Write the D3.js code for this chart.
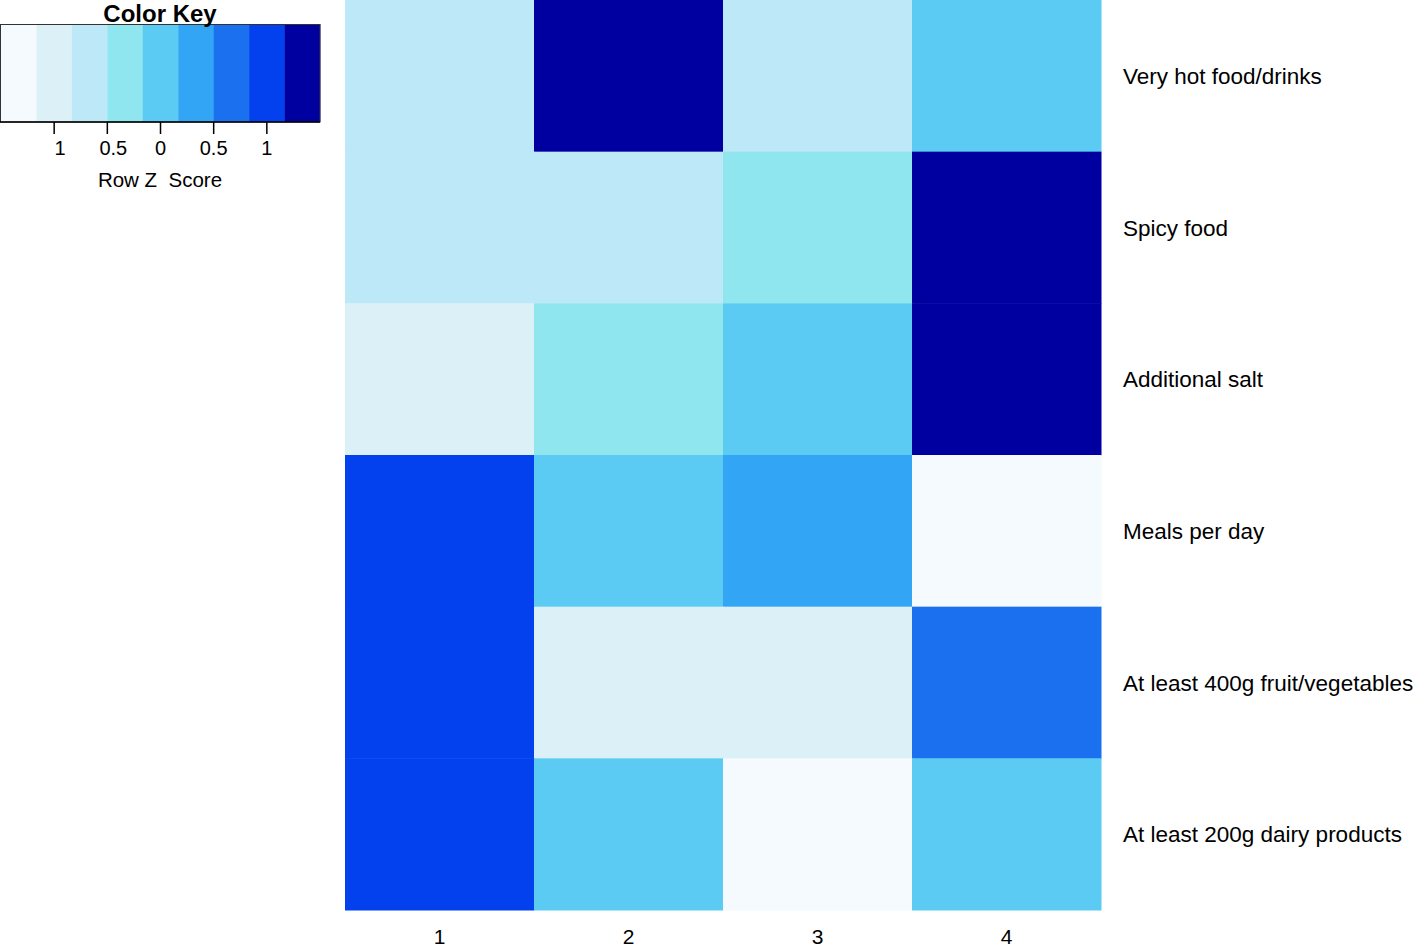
<!DOCTYPE html>
<html><head><meta charset="utf-8">
<script src="https://cdn.jsdelivr.net/npm/d3@7"></script>
<style>body{margin:0;background:#fff;} text{font-family:"Liberation Sans",Arial,Helvetica,sans-serif;}</style>
</head><body><svg id="c" width="1418" height="950"></svg>
<script>
const columns = ["1","2","3","4"];
const rows = ["Very hot food/drinks","Spicy food","Additional salt","Meals per day","At least 400g fruit/vegetables","At least 200g dairy products"];
const zVeryHot  = [-0.62, 1.42, -0.64, -0.16];
const zSpicy    = [-0.55, -0.52, -0.35, 1.42];
const zSalt     = [-0.90, -0.45, 0.00, 1.35];
const zMeals    = [1.00, 0.05, 0.35, -1.40];
const zFruitVeg = [0.92, -0.86, -0.86, 0.80];
const zDairy    = [1.15, 0.12, -1.40, 0.13];
const rowValues = [zVeryHot, zSpicy, zSalt, zMeals, zFruitVeg, zDairy];
const keyBreaks = [-1.5,-1.1667,-0.8333,-0.5,-0.1667,0.1667,0.5,0.8333,1.1667,1.5];
const keyColors = ["#f4fafd","#dcf0f8","#bde8f7","#8fe6ee","#5ccbf4","#33a5f5","#1b70f0","#0340ee","#0000a0"];
const keyTicks = [-1,-0.5,0,0.5,1];
const keyTickLabels = ["1","0.5","0","0.5","1"];

const svg = d3.select("#c");
const x = d3.scaleBand().domain(columns).range([345,1101]);
const y = d3.scaleBand().domain(rows).range([0,910]);
const color = d3.scaleThreshold().domain(keyBreaks.slice(1,-1)).range(keyColors);

const cells = [];
rows.forEach((r,i)=>columns.forEach((c,j)=>cells.push({r,c,v:rowValues[i][j]})));
svg.append("g").selectAll("rect").data(cells).join("rect")
  .attr("x",d=>x(d.c)).attr("y",d=>y(d.r))
  .attr("width",x.bandwidth()+0.5).attr("height",y.bandwidth()+0.5)
  .attr("fill",d=>color(d.v));

svg.append("g").selectAll("text").data(rows).join("text")
  .attr("x",1123).attr("y",d=>y(d)+y.bandwidth()/2+8)
  .attr("font-size",22.5).attr("fill","#000").text(d=>d);

svg.append("g").selectAll("text").data(columns).join("text")
  .attr("x",d=>x(d)+x.bandwidth()/2).attr("y",944)
  .attr("text-anchor","middle").attr("font-size",21).attr("fill","#000").text(d=>d);

// Color key
const kx = d3.scaleLinear().domain([-1.5,1.5]).range([1,320]);
const kg = svg.append("g");
const bins = d3.range(9).map(i=>({a:keyBreaks[i],b:keyBreaks[i+1],c:keyColors[i]}));
kg.selectAll("rect.bin").data(bins).join("rect").attr("class","bin")
  .attr("x",d=>kx(d.a)).attr("y",24).attr("width",d=>kx(d.b)-kx(d.a)+0.3).attr("height",98)
  .attr("fill",d=>d.c);
kg.append("rect").attr("x",0.5).attr("y",24.5).attr("width",319.5).attr("height",97.5)
  .attr("fill","none").attr("stroke","#333").attr("stroke-width",1);
kg.append("line").attr("x1",0).attr("x2",320).attr("y1",122).attr("y2",122).attr("stroke","#000").attr("stroke-width",1.5);
kg.selectAll("line.tick").data(keyTicks).join("line").attr("class","tick")
  .attr("x1",d=>kx(d)).attr("x2",d=>kx(d)).attr("y1",122).attr("y2",134)
  .attr("stroke","#000").attr("stroke-width",1.5);
kg.selectAll("text.tl").data(keyTicks).join("text").attr("class","tl")
  .attr("x",(d,i)=>kx(d)+(i<2?6:0)).attr("y",155).attr("text-anchor","middle")
  .attr("font-size",20).text((d,i)=>keyTickLabels[i]);
kg.append("text").attr("x",160).attr("y",187).attr("text-anchor","middle").attr("font-size",20.5)
  .attr("xml:space","preserve").style("white-space","pre").text("Row Z  Score");
kg.append("text").attr("x",160).attr("y",22).attr("text-anchor","middle").attr("font-size",24)
  .attr("font-weight","bold").text("Color Key");
</script></body></html>
